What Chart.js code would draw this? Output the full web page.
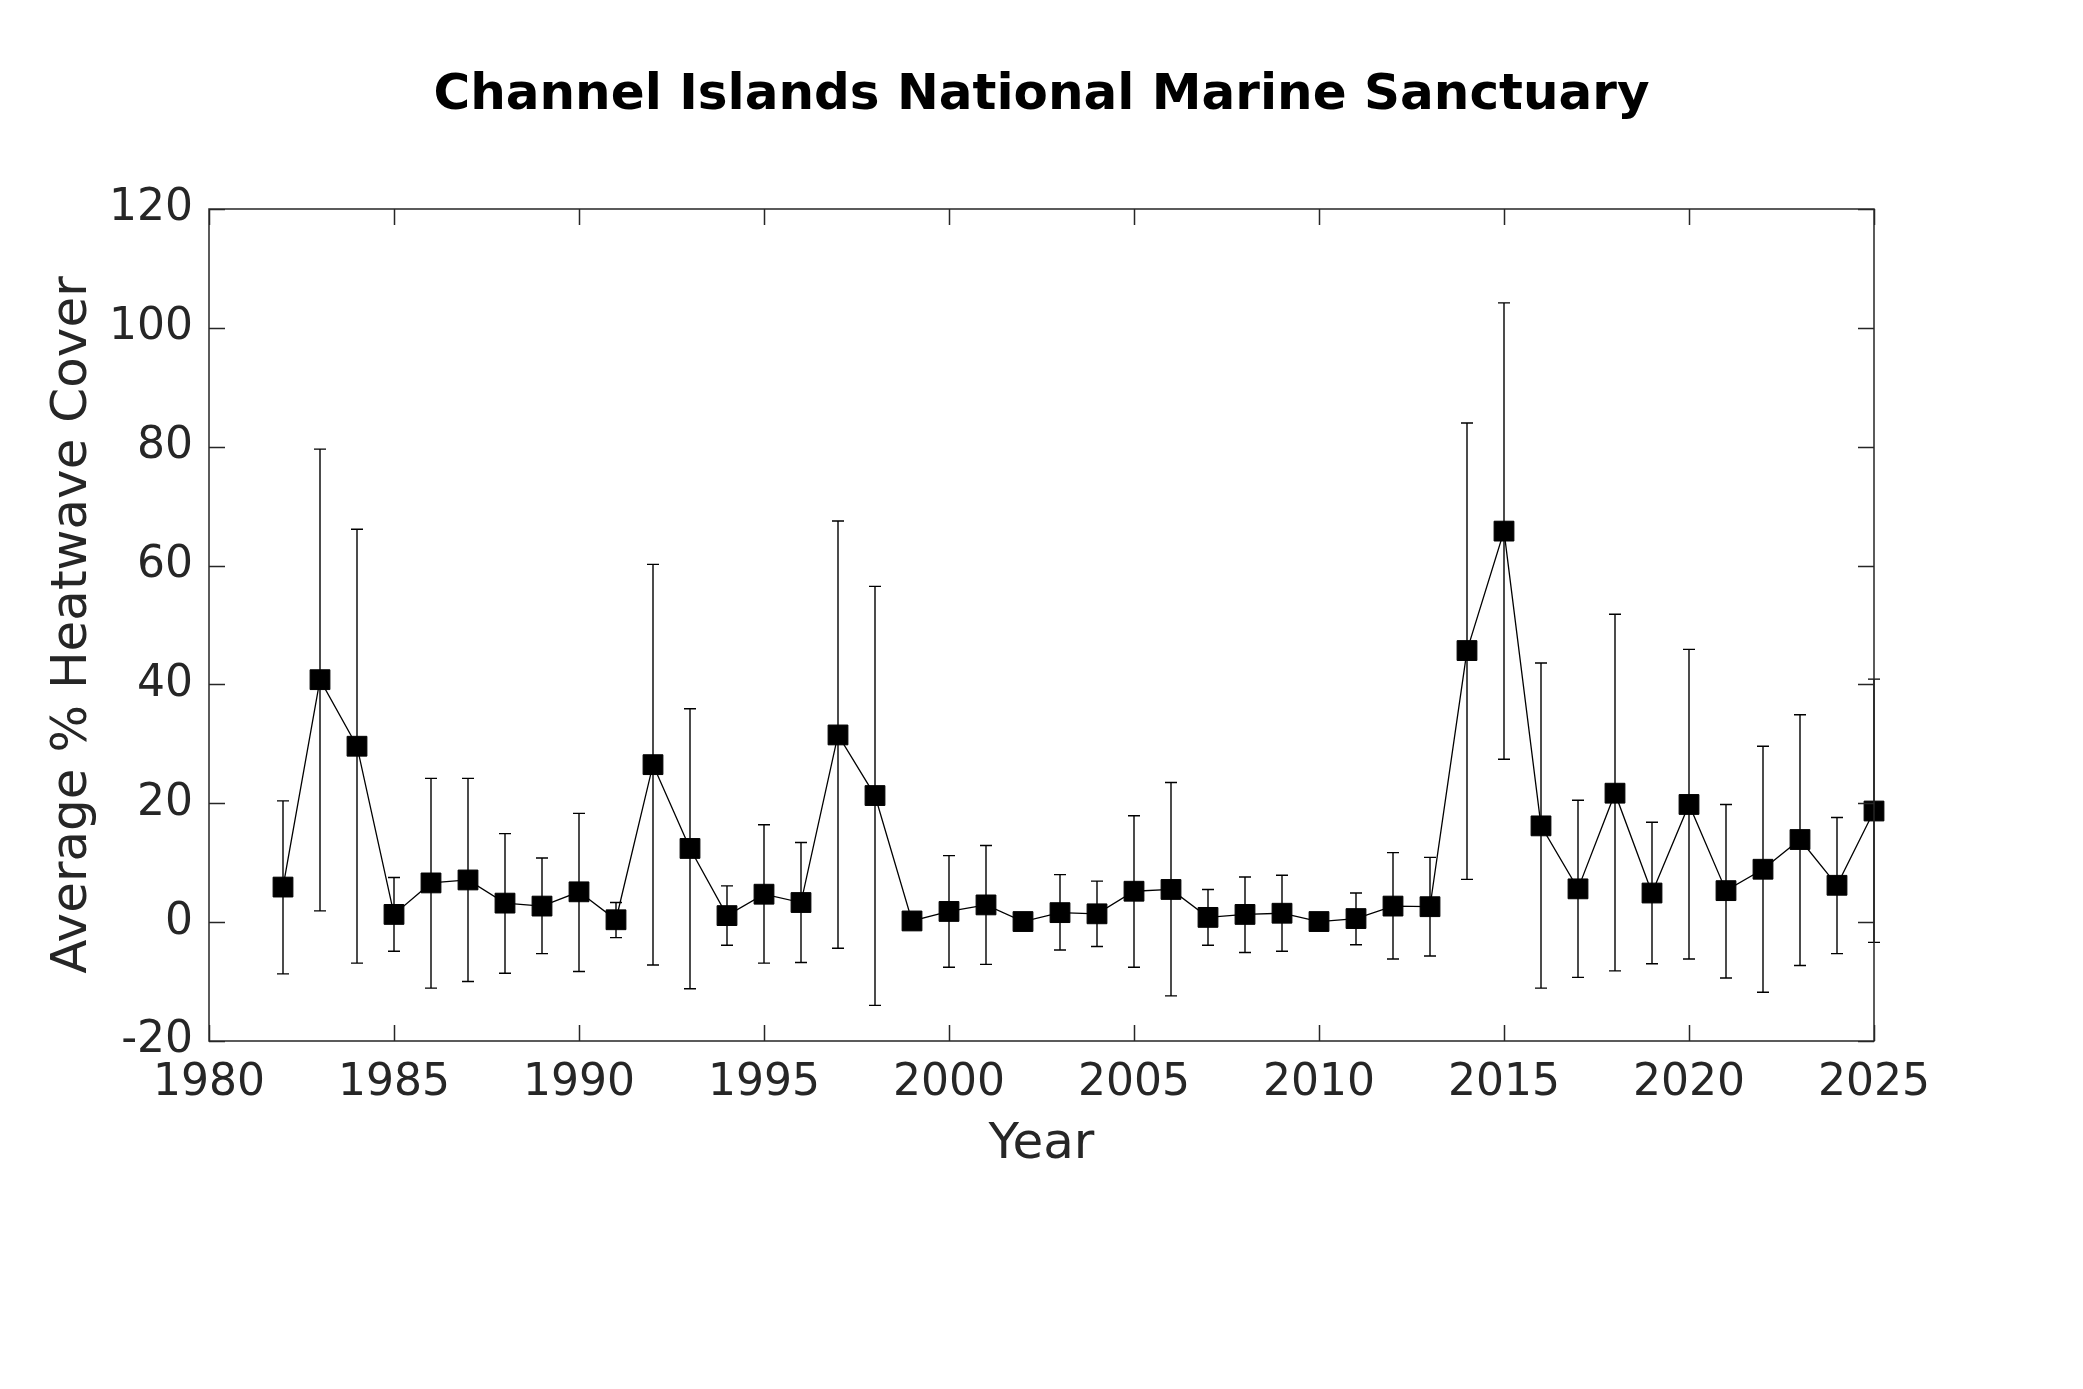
<!DOCTYPE html>
<html>
<head>
<meta charset="utf-8">
<script src="https://cdn.jsdelivr.net/npm/chart.js@4.4.0/dist/chart.umd.min.js"></script>
<style>
  html, body { margin: 0; padding: 0; background: #fff; }
  #wrap { width: 2083px; height: 1389px; }
</style>
</head>
<body>
<div id="wrap"><canvas id="c" width="2083" height="1389"></canvas></div>
<script>
const years = [1982,1983,1984,1985,1986,1987,1988,1989,1990,1991,1992,1993,1994,1995,1996,1997,1998,1999,2000,2001,2002,2003,2004,2005,2006,2007,2008,2009,2010,2011,2012,2013,2014,2015,2016,2017,2018,2019,2020,2021,2022,2023,2024,2025];
const meanCover = [5.9,40.8,29.6,1.3,6.6,7.1,3.2,2.7,5.1,0.4,26.5,12.4,1.1,4.7,3.3,31.5,21.3,0.2,1.8,2.9,0.1,1.6,1.4,5.2,5.5,0.8,1.3,1.5,0.1,0.6,2.7,2.6,45.7,65.8,16.2,5.6,21.7,4.9,19.8,5.3,8.9,13.9,6.2,18.7];
const upperBound = [20.4,79.6,66.1,7.5,24.2,24.2,14.9,10.8,18.3,3.3,60.2,35.9,6.1,16.4,13.4,67.5,56.5,0.8,11.2,12.9,0.5,8.0,6.9,17.9,23.5,5.5,7.6,7.9,0.5,4.9,11.7,10.9,84.0,104.2,43.6,20.5,51.8,16.8,45.9,19.8,29.6,34.9,17.6,40.9];
const lowerBound = [-8.7,1.9,-6.9,-4.9,-11.1,-10.0,-8.6,-5.3,-8.3,-2.6,-7.2,-11.2,-3.9,-6.9,-6.8,-4.4,-14.0,-0.4,-7.6,-7.1,-0.3,-4.7,-4.1,-7.6,-12.4,-3.9,-5.1,-4.9,-0.3,-3.8,-6.2,-5.7,7.2,27.4,-11.1,-9.3,-8.2,-7.0,-6.2,-9.4,-11.8,-7.3,-5.3,-3.4];
const xTicks = [1980,1985,1990,1995,2000,2005,2010,2015,2020,2025];
const yTicks = [-20,0,20,40,60,80,100,120];
const titleText = 'Channel Islands National Marine Sanctuary';
const xLabel = 'Year';
const yLabel = 'Average % Heatwave Cover';

const AX = '#262626';
const FONT = "'DejaVu Sans', sans-serif";

const errorBars = {
  id: 'errorBars',
  beforeDatasetsDraw(chart) {
    const {ctx, scales: {x, y}} = chart;
    ctx.save();
    ctx.strokeStyle = '#000';
    ctx.lineWidth = 1.4;
    const cap = 6;
    years.forEach((yr, i) => {
      const px = x.getPixelForValue(yr);
      const pt = y.getPixelForValue(upperBound[i]);
      const pb = y.getPixelForValue(lowerBound[i]);
      ctx.beginPath();
      ctx.moveTo(px, pt); ctx.lineTo(px, pb);
      ctx.moveTo(px - cap, pt); ctx.lineTo(px + cap, pt);
      ctx.moveTo(px - cap, pb); ctx.lineTo(px + cap, pb);
      ctx.stroke();
    });
    ctx.restore();
  }
};

const boxTicks = {
  id: 'boxTicks',
  afterDraw(chart) {
    const {ctx, chartArea: a, scales: {x, y}} = chart;
    const tl = 16;
    ctx.save();
    ctx.strokeStyle = AX;
    ctx.lineWidth = 1.5;
    ctx.beginPath();
    ctx.rect(a.left, a.top, a.right - a.left, a.bottom - a.top);
    x.ticks.forEach(t => {
      const px = Math.round(x.getPixelForValue(t.value)) + 0.5;
      ctx.moveTo(px, a.bottom); ctx.lineTo(px, a.bottom - tl);
      ctx.moveTo(px, a.top); ctx.lineTo(px, a.top + tl);
    });
    y.ticks.forEach(t => {
      const py = Math.round(y.getPixelForValue(t.value)) + 0.5;
      ctx.moveTo(a.left, py); ctx.lineTo(a.left + tl, py);
      ctx.moveTo(a.right, py); ctx.lineTo(a.right - tl, py);
    });
    ctx.stroke();
    ctx.restore();
  }
};

new Chart(document.getElementById('c'), {
  type: 'line',
  data: {
    datasets: [{
      data: years.map((yr, i) => ({x: yr, y: meanCover[i]})),
      borderColor: '#000',
      borderWidth: 1.3,
      backgroundColor: '#000',
      pointStyle: 'rect',
      pointRadius: 14,
      pointBorderWidth: 1,
      pointBorderColor: '#000',
      pointBackgroundColor: '#000',
      tension: 0,
      clip: false
    }]
  },
  options: {
    responsive: false,
    animation: false,
    devicePixelRatio: 1,
    layout: { padding: { left: 0, right: 209, top: 0, bottom: 198 } },
    plugins: {
      legend: { display: false },
      tooltip: { enabled: false },
      title: {
        display: true,
        fullSize: false,
        text: titleText,
        color: '#000',
        font: { family: FONT, size: 50, weight: 'bold', lineHeight: 1.2 },
        padding: { top: 66, bottom: 83 }
      }
    },
    scales: {
      x: {
        type: 'linear',
        min: 1980, max: 2025,
        afterBuildTicks(s) { s.ticks = xTicks.map(v => ({value: v})); },
        afterFit(s) { s.height = 150; },
        ticks: {
          color: AX, padding: 16,
          font: { family: FONT, size: 44, lineHeight: 1.2 },
          maxRotation: 0, autoSkip: false,
          callback: v => String(v)
        },
        grid: { display: false, drawTicks: false },
        border: { display: false },
        title: {
          display: true, text: xLabel, color: AX,
          font: { family: FONT, size: 50, lineHeight: 1.2 },
          padding: { top: 0, bottom: 16 }
        }
      },
      y: {
        type: 'linear',
        min: -20, max: 120,
        afterBuildTicks(s) { s.ticks = yTicks.map(v => ({value: v})); },
        afterFit(s) { s.width = 209; },
        ticks: {
          color: AX, padding: 16,
          font: { family: FONT, size: 44, lineHeight: 1.2 },
          callback: v => String(v)
        },
        grid: { display: false, drawTicks: false },
        border: { display: false },
        title: {
          display: true, text: yLabel, color: AX,
          font: { family: FONT, size: 50, lineHeight: 1.2 },
          padding: { top: 43, bottom: 0 }
        }
      }
    }
  },
  plugins: [errorBars, boxTicks]
});
</script>
</body>
</html>
